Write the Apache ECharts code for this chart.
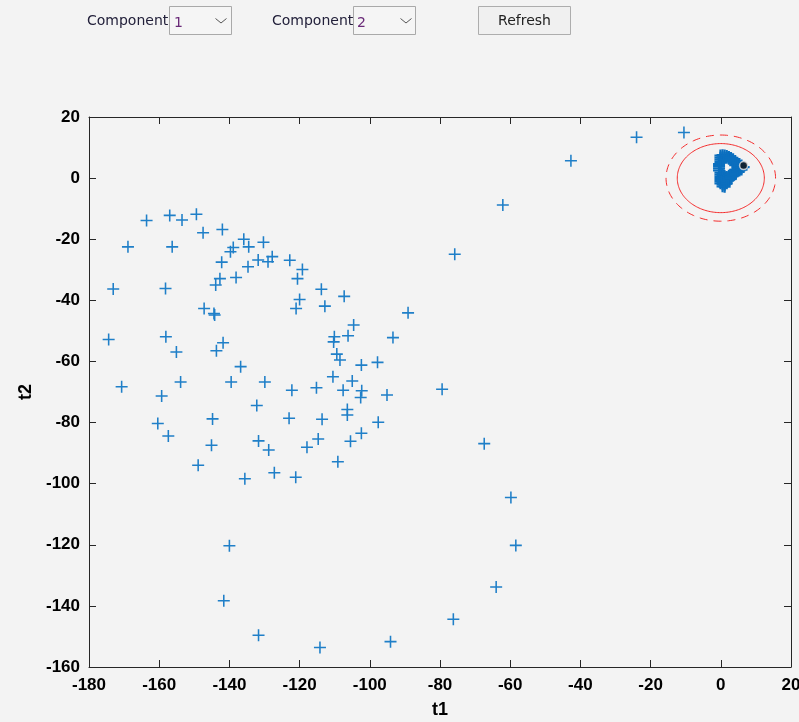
<!DOCTYPE html>
<html>
<head>
<meta charset="utf-8">
<script src="https://cdn.jsdelivr.net/npm/echarts@6/dist/echarts.min.js"></script>
<style>
html,body{margin:0;padding:0;background:#f3f3f3;}
#chart{width:799px;height:722px;}
</style>
</head>
<body>
<div id="chart"></div>
<script>
// ---- axis settings ----
const xMin = -180, xMax = 20, xStep = 20;
const yMin = -160, yMax = 20, yStep = 20;
const xName = 't1';
const yName = 't2';

// ---- score values (t1, t2) ----
const scoresT1 = [
  -163.6,-157.0,-153.5,-149.4,-147.5,-142.0,-168.9,-156.3,-138.9,-139.7,
  -135.9,-134.5,-130.3,-142.2,-131.8,-129.0,-127.8,-134.7,-142.7,-143.9,
  -138.1,-173.1,-158.2,-147.2,-144.4,-144.2,-174.4,-158.1,-155.1,-141.8,
  -143.7,-136.8,-170.7,-153.9,-139.5,-129.9,-159.3,
  -75.8,-122.8,-119.2,-120.6,-113.8,-107.3,-120.0,-121.0,-112.8,-89.1,
  -104.6,-110.1,-110.3,-106.2,-93.4,-109.4,-108.5,-102.4,-97.8,-110.5,
  -105.0,-122.2,-115.2,-107.6,-102.3,-102.6,-95.1,-79.4,-123.0,-113.6,
  -106.4,-106.4,-97.6,-114.7,-105.5,-102.4,-117.9,
  -132.2,-160.4,-144.8,-157.4,-145.1,-131.7,-128.8,-148.9,-135.6,-127.2,
  -121.1,-140.0,-141.6,-131.7,-114.2,
  -109.1,-67.4,-59.8,-58.4,-64.0,-76.2,-94.1,
  -10.5,-24.0,-42.7,-62.1
];
const scoresT2 = [
  -13.9,-12.2,-13.7,-11.8,-17.9,-16.8,-22.5,-22.5,-22.7,-24.1,
  -20.0,-22.5,-21.0,-27.5,-26.8,-27.4,-25.7,-29.0,-32.9,-35.0,
  -32.5,-36.3,-36.1,-42.7,-44.3,-44.8,-52.8,-51.9,-56.9,-53.9,
  -56.5,-61.7,-68.3,-66.7,-66.7,-66.7,-71.3,
  -24.9,-26.9,-29.9,-32.9,-36.4,-38.7,-39.7,-42.7,-41.9,-44.1,
  -48.1,-51.9,-53.6,-51.6,-52.2,-57.6,-59.5,-61.2,-60.3,-65.0,
  -66.4,-69.4,-68.6,-69.4,-69.6,-71.8,-71.0,-69.1,-78.6,-78.9,
  -75.7,-77.5,-79.9,-85.4,-86.1,-83.5,-88.1,
  -74.4,-80.3,-78.8,-84.4,-87.4,-86.0,-89.0,-94.0,-98.4,-96.4,
  -97.9,-120.3,-138.3,-149.6,-153.6,
  -92.8,-86.9,-104.5,-120.2,-133.8,-144.4,-151.7,
  14.9,13.4,5.7,-8.8
];
// dense group near the origin
const clusterT1 = [
  -0.5,-0.5,-0.5,-0.5,
  -0.1,-0.1,-0.1,-0.1,-0.1,-0.1,-0.1,-0.1,-0.1,-0.1,
  0.5,0.5,0.5,0.5,0.5,0.5,0.5,0.5,0.5,0.5,
  1.1,1.1,1.1,1.1,1.1,1.1,1.1,1.1,
  1.7,1.7,1.7,1.7,1.7,1.7,
  2.3,2.3,2.3,2.3,2.3,
  2.9,2.9,2.9,2.9,2.9,
  3.5,3.5,3.5,3.5,
  4.1,4.1,4.1,4.1,4.1,4.1,
  4.7,4.7,4.7,4.7,4.7,
  5.3,5.3,5.3,5.3,
  5.9,5.9,5.9,
  6.5
];
const clusterT2 = [
  4.6,3.9,3.2,2.5,
  7.4,6.7,6.0,5.3,1.8,1.1,0.4,-0.3,-1.0,-1.7,
  7.5,6.8,6.1,1.5,0.8,0.1,-0.6,-1.3,-2.0,-2.7,
  7.4,6.6,0.6,-0.1,-0.8,-1.5,-2.2,-2.8,
  7.2,6.7,0.4,-0.3,-1.0,-1.7,
  6.9,6.3,0.8,0.1,-0.6,
  6.6,6.0,1.1,0.4,-0.2,
  6.2,5.6,1.5,0.8,
  5.6,4.9,4.2,2.7,2.0,1.3,
  5.0,4.3,3.6,2.9,2.2,
  4.6,3.9,3.2,2.5,
  4.1,3.4,2.8,
  3.6
];
// highlighted sample
const selectedT1 = [6.5];
const selectedT2 = [4.1];
// confidence ellipses: [centre t1, centre t2, radius t1, radius t2]
const ellipseInner = [0, 0, 12.4, 11.3];
const ellipseOuter = [0, 0, 15.6, 14.1];

// ---- UI labels ----
const uiLabel = 'Component';
const uiValues = ['1', '2'];
const uiButton = 'Refresh';

const zip = (a, b) => a.map((v, i) => [v, b[i]]);
const plusPath = 'path://M4.35,0h1.3v4.35h4.35v1.3h-4.35v4.35h-1.3v-4.35h-4.35v-1.3h4.35z';
const plusPathBold = 'path://M4.1,0h1.8v4.1h4.1v1.8h-4.1v4.1h-1.8v-4.1h-4.1v-1.8h4.1z';

function ellipseRender(dash) {
  return function (params, api) {
    const cx = api.value(0), cy = api.value(1), rx = api.value(2), ry = api.value(3);
    const pts = [];
    for (let k = 0; k <= 180; k++) {
      const a = k / 180 * Math.PI * 2;
      pts.push(api.coord([cx + rx * Math.cos(a), cy + ry * Math.sin(a)]));
    }
    return {
      type: 'polyline',
      shape: { points: pts },
      style: { fill: null, stroke: '#f32b2b', lineWidth: 1, lineDash: dash }
    };
  };
}

const axisColor = '#262626';
const labelFont = { fontFamily: 'Liberation Sans', fontWeight: 'bold', fontSize: 17, color: '#000' };

const chart = echarts.init(document.getElementById('chart'), null, { renderer: 'canvas' });
chart.setOption({
  animation: false,
  backgroundColor: '#f3f3f3',
  grid: { left: 89, right: 8, top: 117, bottom: 55, containLabel: false, outerBoundsMode: 'none' },
  xAxis: [
    {
      type: 'value', min: xMin, max: xMax, interval: xStep, position: 'bottom',
      name: xName, nameLocation: 'middle', nameGap: 34,
      nameTextStyle: { fontFamily: 'Liberation Sans', fontWeight: 'bold', fontSize: 18, color: '#000' },
      axisLine: { show: true, onZero: false, lineStyle: { color: axisColor, width: 1 } },
      axisTick: { show: true, inside: true, length: 7, lineStyle: { color: axisColor } },
      axisLabel: Object.assign({ margin: 10, showMinLabel: true, showMaxLabel: true }, labelFont),
      splitLine: { show: false }
    },
    {
      type: 'value', min: xMin, max: xMax, interval: xStep, position: 'top',
      axisLine: { show: true, onZero: false, lineStyle: { color: axisColor, width: 1 } },
      axisTick: { show: true, inside: true, length: 7, lineStyle: { color: axisColor } },
      axisLabel: { show: false },
      splitLine: { show: false }
    }
  ],
  yAxis: [
    {
      type: 'value', min: yMin, max: yMax, interval: yStep, position: 'left',
      name: yName, nameLocation: 'middle', nameGap: 52,
      nameTextStyle: { fontFamily: 'Liberation Sans', fontWeight: 'bold', fontSize: 18, color: '#000' },
      axisLine: { show: true, onZero: false, lineStyle: { color: axisColor, width: 1 } },
      axisTick: { show: true, inside: true, length: 7, lineStyle: { color: axisColor } },
      axisLabel: Object.assign({ margin: 9, showMinLabel: true, showMaxLabel: true }, labelFont),
      splitLine: { show: false }
    },
    {
      type: 'value', min: yMin, max: yMax, interval: yStep, position: 'right',
      axisLine: { show: true, onZero: false, lineStyle: { color: axisColor, width: 1 } },
      axisTick: { show: true, inside: true, length: 7, lineStyle: { color: axisColor } },
      axisLabel: { show: false },
      splitLine: { show: false }
    }
  ],
  series: [
    {
      type: 'custom', xAxisIndex: 0, yAxisIndex: 0, silent: true,
      data: [ellipseInner], renderItem: ellipseRender(null), z: 1
    },
    {
      type: 'custom', xAxisIndex: 0, yAxisIndex: 0, silent: true,
      data: [ellipseOuter], renderItem: ellipseRender([8, 6]), z: 1
    },
    {
      type: 'scatter', xAxisIndex: 0, yAxisIndex: 0,
      data: zip(scoresT1, scoresT2),
      symbol: plusPath, symbolSize: 12,
      itemStyle: { color: '#1f7fc8', opacity: 1 }, z: 2
    },
    {
      type: 'scatter', xAxisIndex: 0, yAxisIndex: 0,
      data: zip(clusterT1, clusterT2),
      symbol: plusPathBold, symbolSize: 12,
      itemStyle: { color: '#0b6fbf', opacity: 1 }, z: 2
    },
    {
      type: 'scatter', xAxisIndex: 0, yAxisIndex: 0,
      data: zip(selectedT1, selectedT2),
      symbol: 'circle', symbolSize: 8,
      itemStyle: { color: '#111', borderColor: '#e8e8e8', borderWidth: 1.5 }, z: 3
    }
  ],
  graphic: [
    { type: 'text', left: 87, top: 14, style: { text: uiLabel, font: '14px "DejaVu Sans"', fill: '#22203a' } },
    { type: 'rect', shape: { x: 169.5, y: 6.5, width: 62, height: 28 }, style: { fill: '#f5f5f5', stroke: '#a9a9a9', lineWidth: 1 } },
    { type: 'text', left: 174, top: 16, style: { text: uiValues[0], font: '14px "DejaVu Sans"', fill: '#6a2a78' } },
    { type: 'polyline', shape: { points: [[215.5, 18.5], [221, 23], [226.5, 18.5]] }, style: { stroke: '#555', lineWidth: 1, fill: null } },

    { type: 'text', left: 272, top: 14, style: { text: uiLabel, font: '14px "DejaVu Sans"', fill: '#22203a' } },
    { type: 'rect', shape: { x: 353.5, y: 6.5, width: 62, height: 28 }, style: { fill: '#f5f5f5', stroke: '#a9a9a9', lineWidth: 1 } },
    { type: 'text', left: 357, top: 16, style: { text: uiValues[1], font: '14px "DejaVu Sans"', fill: '#6a2a78' } },
    { type: 'polyline', shape: { points: [[400.5, 18.5], [406, 23], [411.5, 18.5]] }, style: { stroke: '#555', lineWidth: 1, fill: null } },

    { type: 'rect', shape: { x: 478.5, y: 6.5, width: 92, height: 28 }, style: { fill: '#f0f0f0', stroke: '#adadad', lineWidth: 1 } },
    { type: 'text', x: 524.5, y: 21.5, style: { text: uiButton, font: '14px "DejaVu Sans"', fill: '#222', align: 'center', verticalAlign: 'middle' } }
  ]
});
</script>
</body>
</html>
